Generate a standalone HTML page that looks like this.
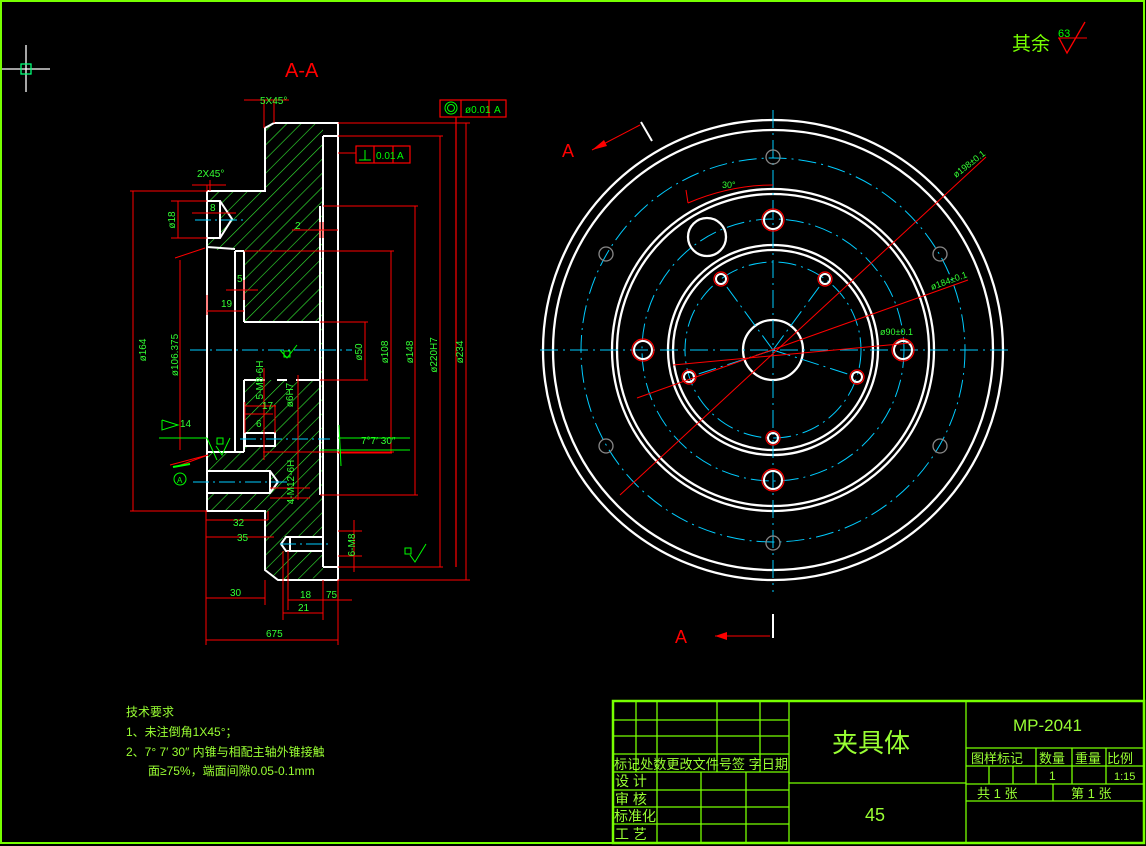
<!DOCTYPE html>
<html><head><meta charset="utf-8"><style>
html,body{margin:0;padding:0;background:#000;}
svg{display:block}
text{font-family:"Liberation Sans","Noto Sans CJK SC",sans-serif;}
</style></head><body>
<svg width="1146" height="846" viewBox="0 0 1146 846" xmlns="http://www.w3.org/2000/svg">
<defs>
<pattern id="h" width="10" height="10" patternUnits="userSpaceOnUse" patternTransform="rotate(45)">
<line x1="0" y1="0" x2="0" y2="10" stroke="#3e3" stroke-width="1.2"/>
</pattern>
</defs>
<rect width="1146" height="846" fill="#000"/>
<rect x="1" y="1" width="1143" height="842" fill="none" stroke="#7f0" stroke-width="2"/>
<g stroke="#fff" stroke-width="1.3"><line x1="2" y1="69" x2="50" y2="69"/><line x1="26" y1="45" x2="26" y2="92"/></g>
<rect x="21" y="64" width="10" height="10" fill="none" stroke="#0f7" stroke-width="1.3"/>
<text x="1012" y="50" fill="#7f0" font-size="19">其余</text>
<text x="1058" y="37" fill="#0f0" font-size="11">63</text>
<polyline points="1058,38 1087,38" stroke="#f00" fill="none"/>
<polyline points="1059,38 1067,53 1085,22" stroke="#f00" fill="none" stroke-width="1.3"/>
<text x="285" y="77" fill="#f00" font-size="20">A-A</text>

<polygon points="207,191 265,191 265,128 274,123 323,123 323,578 278,580 265,570 265,511 207,511" fill="url(#h)"/>
<rect x="208" y="250" width="36" height="202" fill="#000"/>
<rect x="244" y="322" width="76" height="58" fill="#000"/>
<rect x="208" y="201" width="12" height="37" fill="#000"/>
<rect x="208" y="471" width="62" height="22" fill="#000"/>
<rect x="283" y="537" width="40" height="14" fill="#000"/>
<rect x="245" y="433" width="30" height="13" fill="#000"/>
<g stroke="#fff" stroke-width="2" fill="none">
<polyline points="207,191 265,191 265,128 274,123 338,123 338,580 278,580 265,570 265,511 207,511 207,191"/>
<polyline points="323,136 338,136"/><line x1="323" y1="136" x2="323" y2="567"/><polyline points="323,567 338,567"/>
<line x1="320" y1="206" x2="320" y2="495"/>
<line x1="235" y1="251" x2="235" y2="452"/>
<line x1="244" y1="251" x2="244" y2="322"/>
<line x1="235" y1="251" x2="244" y2="251"/>
<line x1="244" y1="322" x2="320" y2="322"/>
<line x1="244" y1="380" x2="265" y2="380"/><line x1="277" y1="380" x2="287" y2="380"/><line x1="296" y1="380" x2="320" y2="380"/>
<line x1="244" y1="380" x2="244" y2="452"/>
<line x1="207" y1="247" x2="235" y2="249"/>
<line x1="207" y1="452" x2="244" y2="452"/>
<polyline points="207,201 220,201 232,219 220,238 207,238"/>
<line x1="220" y1="201" x2="220" y2="238"/>
<polyline points="207,471 270,471 278,482 270,493 207,493"/>
<line x1="270" y1="471" x2="270" y2="493"/>
<polyline points="323,537 286,537 281,544 286,551 323,551"/>
<line x1="290" y1="537" x2="290" y2="551"/>
<rect x="245" y="433" width="30" height="13"/>
</g>
<g stroke="#0cf" stroke-width="1" stroke-dasharray="16,4,2,4">
<line x1="190" y1="350" x2="352" y2="350"/>
<line x1="195" y1="220" x2="245" y2="220"/>
<line x1="193" y1="482" x2="290" y2="482"/>
<line x1="240" y1="439" x2="330" y2="439"/>
<line x1="280" y1="544" x2="330" y2="544"/>
</g>
<g stroke="#f00" stroke-width="1" fill="none">
<line x1="130" y1="191" x2="207" y2="191"/><line x1="130" y1="511" x2="207" y2="511"/><line x1="133" y1="191" x2="133" y2="511"/>
<line x1="180" y1="260" x2="180" y2="450"/><line x1="175" y1="258" x2="205" y2="248"/><line x1="178" y1="466" x2="208" y2="455"/>
<line x1="171" y1="201" x2="207" y2="201"/><line x1="171" y1="238" x2="207" y2="238"/><line x1="178" y1="201" x2="178" y2="238"/>
<line x1="192" y1="213" x2="236" y2="213"/>
<line x1="192" y1="185" x2="226" y2="185"/><line x1="207" y1="185" x2="207" y2="191"/><line x1="210" y1="180" x2="210" y2="191"/>
<line x1="244" y1="100" x2="289" y2="100"/><line x1="264" y1="100" x2="264" y2="128"/><line x1="274" y1="100" x2="274" y2="123"/>
<line x1="338" y1="123" x2="470" y2="123"/><line x1="338" y1="136" x2="443" y2="136"/>
<line x1="323" y1="206" x2="418" y2="206"/><line x1="244" y1="251" x2="394" y2="251"/>
<line x1="320" y1="322" x2="368" y2="322"/><line x1="320" y1="380" x2="368" y2="380"/>
<line x1="320" y1="495" x2="418" y2="495"/><line x1="320" y1="452" x2="394" y2="452"/>
<line x1="338" y1="567" x2="443" y2="567"/><line x1="338" y1="580" x2="470" y2="580"/>
<line x1="365" y1="322" x2="365" y2="380"/><line x1="391" y1="251" x2="391" y2="452"/>
<line x1="415" y1="206" x2="415" y2="495"/><line x1="440" y1="136" x2="440" y2="567"/>
<line x1="466" y1="123" x2="466" y2="580"/>
<line x1="338" y1="153" x2="356" y2="153"/>
<line x1="292" y1="230" x2="338" y2="230"/><line x1="320" y1="222" x2="320" y2="238"/><line x1="323" y1="222" x2="323" y2="238"/>
<line x1="226" y1="290" x2="258" y2="290"/><line x1="244" y1="280" x2="244" y2="300"/>
<line x1="207" y1="311" x2="244" y2="311"/><line x1="207" y1="295" x2="207" y2="315"/>
<line x1="206" y1="520" x2="268" y2="520"/><line x1="206" y1="537" x2="274" y2="537"/>
<line x1="268" y1="511" x2="268" y2="520"/>
<line x1="206" y1="511" x2="206" y2="645"/>
<line x1="206" y1="598" x2="265" y2="598"/><line x1="265" y1="580" x2="265" y2="605"/>
<line x1="288" y1="551" x2="288" y2="610"/><line x1="283" y1="551" x2="283" y2="620"/>
<line x1="288" y1="600" x2="352" y2="600"/><line x1="283" y1="613" x2="323" y2="613"/>
<line x1="323" y1="580" x2="323" y2="620"/>
<line x1="206" y1="640" x2="338" y2="640"/><line x1="338" y1="580" x2="338" y2="645"/>
<line x1="245" y1="402" x2="245" y2="433"/><line x1="275" y1="405" x2="275" y2="433"/>
<line x1="245" y1="406" x2="276" y2="406"/><line x1="245" y1="414" x2="273" y2="414"/>
<line x1="264" y1="368" x2="264" y2="460"/><line x1="298" y1="375" x2="298" y2="500"/>
<line x1="270" y1="488" x2="310" y2="488"/><line x1="270" y1="498" x2="310" y2="498"/>
<line x1="263" y1="452" x2="338" y2="452"/>
<line x1="338" y1="453" x2="392" y2="453"/>
<line x1="354" y1="520" x2="354" y2="572"/>
<line x1="338" y1="531" x2="362" y2="531"/><line x1="338" y1="556" x2="362" y2="556"/>
<line x1="170" y1="465" x2="208" y2="455"/>
</g>
<g stroke="#f00" fill="none" stroke-width="1.2">
<rect x="440" y="100" width="66" height="17"/><line x1="461" y1="100" x2="461" y2="117"/><line x1="489" y1="100" x2="489" y2="117"/>
<line x1="456" y1="117" x2="456" y2="567"/>
<rect x="356" y="146" width="54" height="17"/><line x1="374" y1="146" x2="374" y2="163"/><line x1="393" y1="146" x2="393" y2="163"/>
</g>
<circle cx="451" cy="108" r="6" fill="none" stroke="#0f0"/><circle cx="451" cy="108" r="3.5" fill="none" stroke="#0f0"/>
<text x="465" y="113" fill="#0f0" font-size="10">ø0.01</text><text x="494" y="113" fill="#0f0" font-size="10">A</text>
<line x1="359" y1="160" x2="371" y2="160" stroke="#0f0"/><line x1="365" y1="150" x2="365" y2="160" stroke="#0f0"/>
<text x="376" y="159" fill="#0f0" font-size="10">0.01</text><text x="397" y="159" fill="#0f0" font-size="10">A</text>
<g fill="#3f3" font-size="10">
<text x="260" y="104">5X45°</text>
<text x="197" y="177">2X45°</text>
<text x="210" y="211">8</text>
<text x="295" y="229">2</text>
<text x="237" y="282">5</text>
<text x="221" y="307">19</text>
<text x="233" y="526">32</text>
<text x="237" y="541">35</text>
<text x="230" y="596">30</text>
<text x="300" y="598">18</text>
<text x="326" y="598">75</text>
<text x="298" y="611">21</text>
<text x="266" y="637">675</text>
<text x="262" y="409">17</text>
<text x="256" y="427">6</text>
<text x="361" y="444">7°7′ 30″</text>
<text x="180" y="427">14</text>
<text transform="translate(146,350) rotate(-90)" text-anchor="middle">ø164</text>
<text transform="translate(178,355) rotate(-90)" text-anchor="middle">ø106.375</text>
<text transform="translate(175,220) rotate(-90)" text-anchor="middle">ø18</text>
<text transform="translate(362,352) rotate(-90)" text-anchor="middle">ø50</text>
<text transform="translate(388,352) rotate(-90)" text-anchor="middle">ø108</text>
<text transform="translate(413,352) rotate(-90)" text-anchor="middle">ø148</text>
<text transform="translate(437,355) rotate(-90)" text-anchor="middle">ø220H7</text>
<text transform="translate(463,352) rotate(-90)" text-anchor="middle">ø234</text>
<text transform="translate(263,380) rotate(-90)" text-anchor="middle">5-M8-6H</text>
<text transform="translate(293,395) rotate(-90)" text-anchor="middle">ø6H7</text>
<text transform="translate(294,482) rotate(-90)" text-anchor="middle">4-M12-6H</text>
<text transform="translate(355,545) rotate(-90)" text-anchor="middle">6-M8</text>
</g>
<g stroke="#0f0" fill="none">
<polyline points="162,420 178,425 162,430 162,420"/><line x1="159" y1="438" x2="207" y2="438"/>
<line x1="207" y1="438" x2="217" y2="460"/>
<rect x="217" y="438" width="6" height="6"/><polyline points="216,446 222,455 230,438"/>
<rect x="405" y="548" width="6" height="6"/><polyline points="410,555 415,562 426,544"/>
<rect x="284" y="351" width="6" height="6"/><polyline points="280,350 287,358 297,345"/>
<circle cx="180" cy="479" r="6"/><line x1="173" y1="467" x2="190" y2="464" stroke-width="2"/>
<line x1="338" y1="438" x2="410" y2="438"/><line x1="320" y1="450" x2="410" y2="450"/>
<line x1="339" y1="425" x2="341" y2="466"/>
</g>
<text x="177" y="483" fill="#0f0" font-size="8">A</text>

<g stroke="#fff" stroke-width="2.3" fill="none">
<circle cx="773" cy="350" r="230"/><circle cx="773" cy="350" r="220"/>
<circle cx="773" cy="350" r="161"/><circle cx="773" cy="350" r="156"/>
<circle cx="773" cy="350" r="105"/><circle cx="773" cy="350" r="100"/>
<circle cx="773" cy="350" r="30"/>
<circle cx="707" cy="237" r="19"/>
</g>
<g stroke="#0cf" stroke-width="1" fill="none" stroke-dasharray="18,5,2,5">
<circle cx="773" cy="350" r="192"/><circle cx="773" cy="350" r="131"/><circle cx="773" cy="350" r="88"/>
<line x1="540" y1="350" x2="1008" y2="350"/><line x1="773" y1="110" x2="773" y2="592"/>
<line x1="773" y1="350" x2="721" y2="279"/><line x1="773" y1="350" x2="825" y2="279"/>
<line x1="773" y1="350" x2="689" y2="377"/><line x1="773" y1="350" x2="857" y2="377"/>
</g>
<g fill="none">
<g stroke="#f00" stroke-width="1.2">
<circle cx="773" cy="220" r="11"/><circle cx="903" cy="350" r="11"/><circle cx="773" cy="480" r="11"/><circle cx="643" cy="350" r="11"/>
<circle cx="721" cy="279" r="7"/><circle cx="825" cy="279" r="7"/><circle cx="689" cy="377" r="7"/><circle cx="857" cy="377" r="7"/><circle cx="773" cy="438" r="7"/>
</g>
<g stroke="#fff" stroke-width="2">
<circle cx="773" cy="220" r="9"/><circle cx="903" cy="350" r="9"/><circle cx="773" cy="480" r="9"/><circle cx="643" cy="350" r="9"/>
<circle cx="721" cy="279" r="5"/><circle cx="825" cy="279" r="5"/><circle cx="689" cy="377" r="5"/><circle cx="857" cy="377" r="5"/><circle cx="773" cy="438" r="5"/>
</g>
<g stroke="#888" stroke-width="1.3">
<circle cx="773" cy="157" r="7"/><circle cx="773" cy="543" r="7"/><circle cx="940" cy="254" r="7"/><circle cx="606" cy="254" r="7"/><circle cx="606" cy="446" r="7"/><circle cx="940" cy="446" r="7"/>
</g>
</g>
<g stroke="#f00" stroke-width="1" fill="none">
<line x1="620" y1="495" x2="986" y2="157"/>
<line x1="637" y1="398" x2="968" y2="280"/>
<line x1="673" y1="365" x2="910" y2="343"/>
<path d="M688,203 Q730,185 773,185"/>
<line x1="688" y1="203" x2="686" y2="190"/>
<line x1="640" y1="125" x2="592" y2="150"/>
<line x1="770" y1="636" x2="715" y2="636"/>
</g>
<polygon points="592,150 604,140 607,146" fill="#f00"/>
<polygon points="715,636 727,632 727,640" fill="#f00"/>
<g stroke="#fff" stroke-width="2"><line x1="641" y1="122" x2="652" y2="141"/><line x1="773" y1="614" x2="773" y2="638"/></g>
<text x="562" y="157" fill="#f00" font-size="18">A</text>
<text x="675" y="643" fill="#f00" font-size="18">A</text>
<g fill="#3f3" font-size="9">
<text x="722" y="188">30°</text>
<text transform="translate(956,178) rotate(-38)">ø198±0.1</text>
<text transform="translate(932,290) rotate(-20)">ø184±0.1</text>
<text x="880" y="335">ø90±0.1</text>
</g>

<g fill="#9f3" font-size="12">
<text x="126" y="716">技术要求</text>
<text x="126" y="736">1、未注倒角1X45°；</text>
<text x="126" y="756">2、7° 7′ 30″ 内锥与相配主轴外锥接触</text>
<text x="148" y="775">面≥75%，端面间隙0.05-0.1mm</text>
</g>

<g stroke="#7f0" stroke-width="1.3" fill="none">
<rect x="613" y="701" width="531" height="142" stroke-width="2.5"/>
<line x1="613" y1="720" x2="789" y2="720"/><line x1="613" y1="736" x2="789" y2="736"/>
<line x1="613" y1="754" x2="789" y2="754"/><line x1="613" y1="772" x2="789" y2="772"/>
<line x1="613" y1="790" x2="789" y2="790"/><line x1="613" y1="807" x2="789" y2="807"/><line x1="613" y1="824" x2="789" y2="824"/>
<line x1="636" y1="701" x2="636" y2="772"/><line x1="657" y1="701" x2="657" y2="843"/>
<line x1="717" y1="701" x2="717" y2="772"/><line x1="760" y1="701" x2="760" y2="772"/>
<line x1="701" y1="772" x2="701" y2="843"/><line x1="746" y1="772" x2="746" y2="843"/>
<line x1="789" y1="701" x2="789" y2="843"/><line x1="966" y1="701" x2="966" y2="843"/>
<line x1="789" y1="783" x2="966" y2="783"/>
<line x1="966" y1="748" x2="1144" y2="748"/><line x1="966" y1="766" x2="1144" y2="766"/>
<line x1="966" y1="784" x2="1144" y2="784"/><line x1="966" y1="801" x2="1144" y2="801"/>
<line x1="1036" y1="748" x2="1036" y2="784"/><line x1="1072" y1="748" x2="1072" y2="784"/><line x1="1106" y1="748" x2="1106" y2="784"/>
<line x1="989" y1="766" x2="989" y2="784"/><line x1="1013" y1="766" x2="1013" y2="784"/>
<line x1="1053" y1="784" x2="1053" y2="801"/>
</g>
<g fill="#9f3">
<text x="614" y="769" font-size="13.5" textLength="174" lengthAdjust="spacingAndGlyphs">标记处数更改文件号签 字日期</text>
<text x="615" y="786" font-size="14">设 计</text>
<text x="615" y="804" font-size="14">审 核</text>
<text x="614" y="821" font-size="14">标准化</text>
<text x="615" y="839" font-size="14">工 艺</text>
<text x="832" y="752" font-size="26">夹具体</text>
<text x="865" y="821" font-size="18">45</text>
<text x="1013" y="731" font-size="17">MP-2041</text>
<text x="971" y="763" font-size="13">图样标记</text>
<text x="1039" y="763" font-size="13">数量</text>
<text x="1075" y="763" font-size="13">重量</text>
<text x="1107" y="763" font-size="13">比例</text>
<text x="1049" y="780" font-size="12">1</text>
<text x="1114" y="780" font-size="11">1:15</text>
<text x="977" y="798" font-size="13">共 1 张</text>
<text x="1071" y="798" font-size="13">第 1 张</text>
</g>
</svg>
</body></html>
